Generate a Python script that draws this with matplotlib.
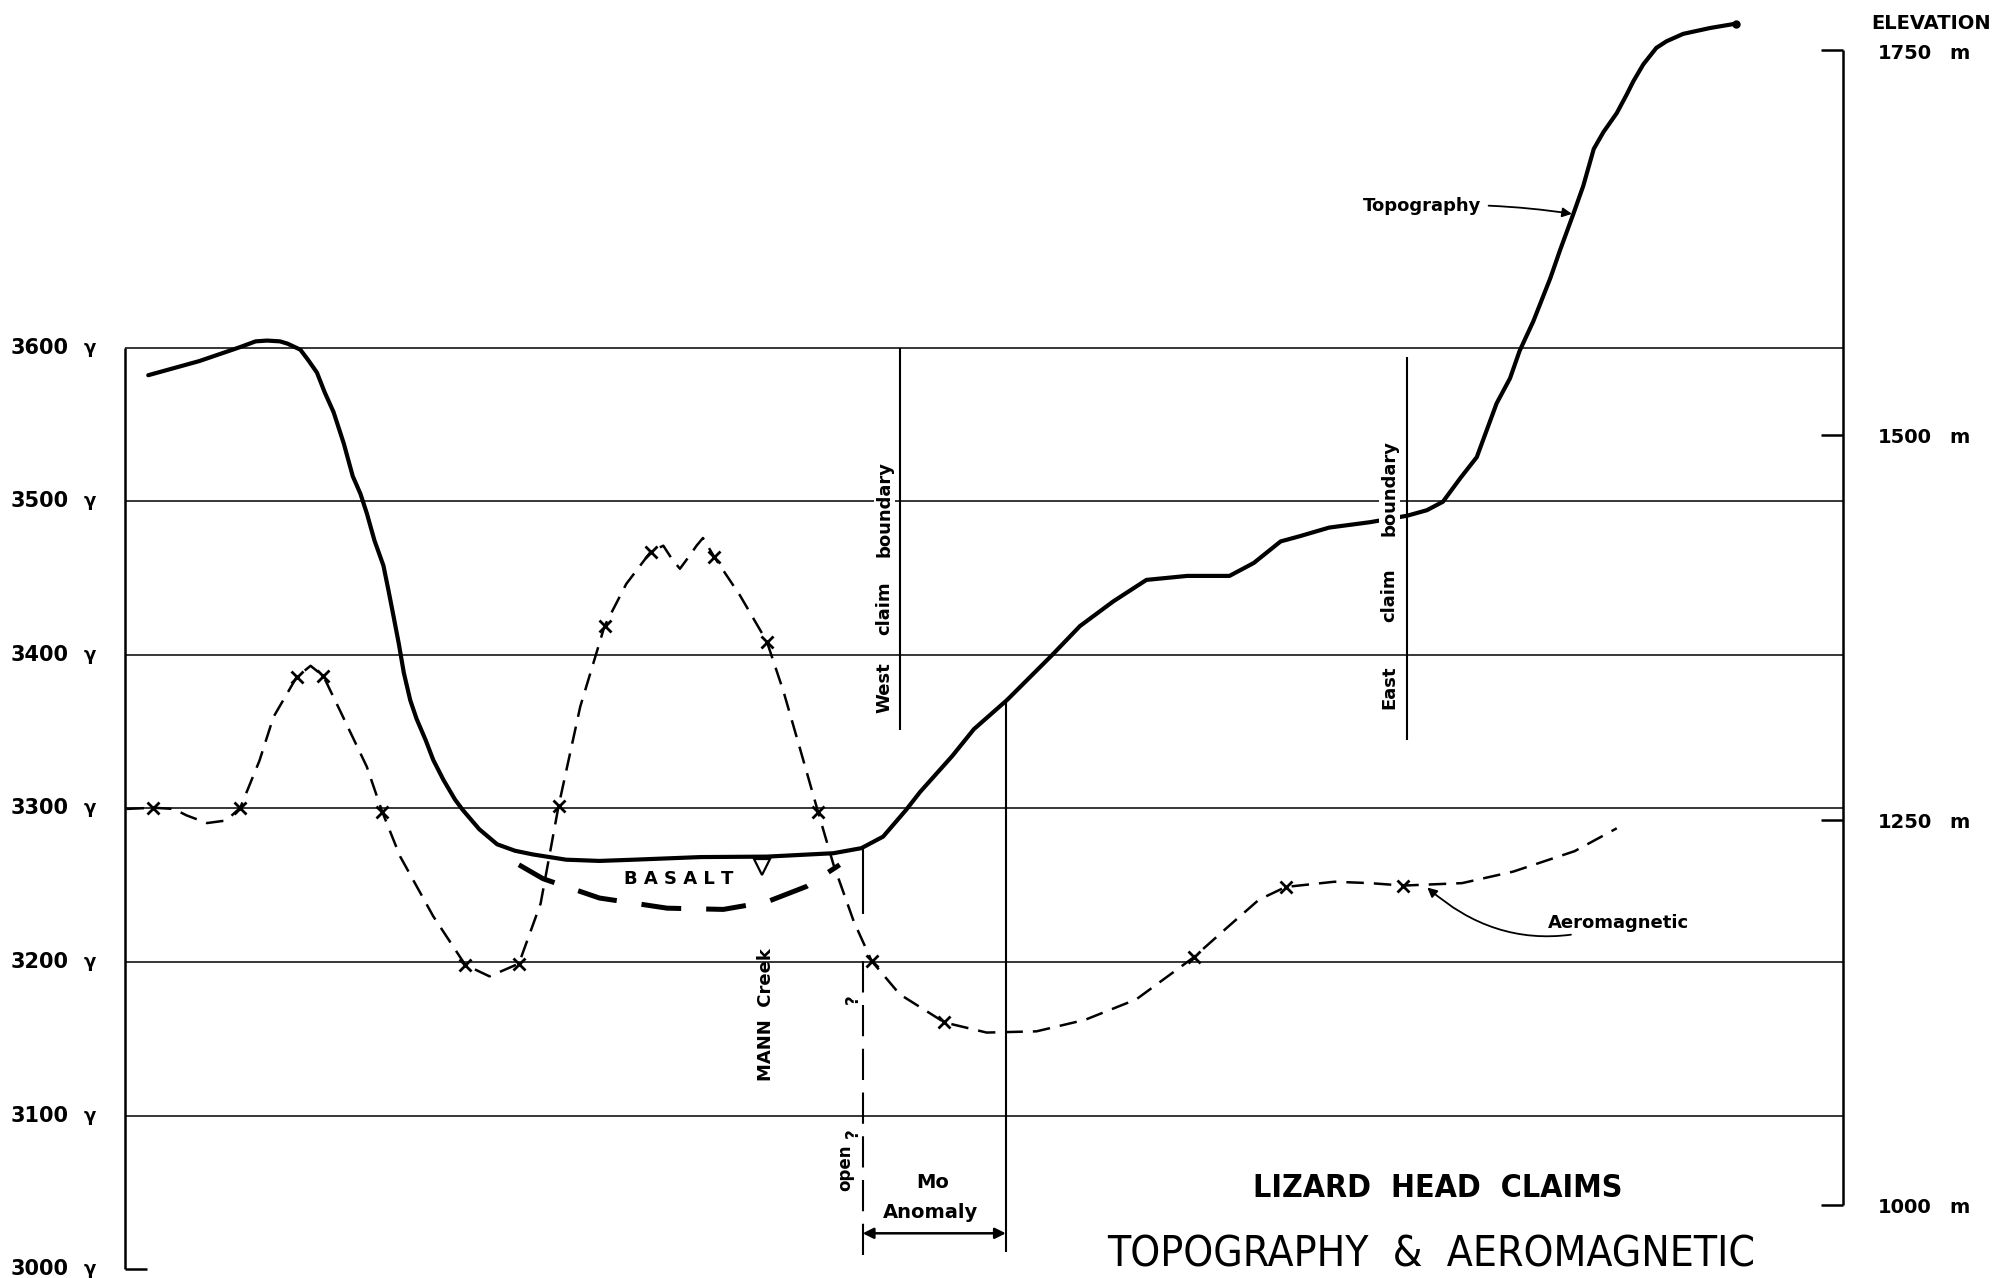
import numpy as np
import matplotlib
matplotlib.use("Agg")
import matplotlib.pyplot as plt

# ---------------- data (distance along profile in arbitrary units) ----------------
topo_dist = [18, 58, 90, 102, 111, 121, 127, 137, 143, 150, 156, 163, 171, 178, 184,
             189, 195, 202, 206, 210, 214, 218, 223, 228, 235, 241, 249, 258, 264, 277,
             291, 305, 319, 345, 371, 398, 450, 502, 554, 576, 593, 611, 622, 647, 664,
             690, 725, 747, 773, 799, 831, 864, 883, 904, 919, 942, 974, 1003, 1018.5,
             1031, 1044.5, 1057.5, 1073, 1083.5, 1091, 1101.7, 1115, 1122.7, 1133,
             1140.8, 1149, 1156.6, 1167, 1174.8, 1180, 1187.8, 1198, 1206, 1219, 1240,
             1260]
topo_elev = [1539, 1548.2, 1557.3, 1561, 1561.5, 1561, 1559.5, 1555.6, 1549, 1540.7,
             1528, 1515, 1494.6, 1473.4, 1462, 1449.3, 1431.6, 1415.3, 1399, 1382,
             1364.7, 1345.5, 1327.8, 1315.6, 1302, 1289, 1276, 1263.3, 1256.6, 1244,
             1234.2, 1230, 1227.6, 1224.2, 1223.4, 1224.2, 1225.9, 1226.2, 1228.4,
             1231.7, 1239.2, 1256.6, 1268.3, 1291.5, 1309, 1328, 1357, 1376, 1392, 1406,
             1408.6, 1408.6, 1417, 1431, 1434.4, 1440, 1443.5, 1447.7, 1451.3, 1456.8,
             1472, 1485.8, 1520.7, 1537, 1554.8, 1574, 1602, 1620.4, 1643.7, 1662, 1686,
             1697, 1709.3, 1721.4, 1730, 1741, 1751.7, 1756, 1760.8, 1764.6, 1767.4]

aero_dist = [1, 22, 38, 48, 64, 79, 90, 105, 116, 134, 145, 155, 168, 189, 201, 215,
             241, 266, 285, 308, 325, 339, 356, 375, 392, 411, 421, 428, 434, 442, 447,
             452, 461, 481, 502, 515, 528, 542, 554, 570, 584, 606, 641, 674, 713, 751,
             791, 836, 863, 887, 908, 946, 974, 1000, 1046, 1086, 1134, 1167]
aero_gamma = [3299.6, 3300.4, 3299.6, 3295.4, 3290.4, 3292.1, 3300.4, 3331, 3359.5,
              3385.3, 3392.8, 3386.1, 3363.7, 3327.1, 3297.9, 3268.8, 3229.7, 3198.1,
              3190.6, 3198.9, 3238, 3301.3, 3366.2, 3418.6, 3446.1, 3466.9, 3471, 3462,
              3456, 3465, 3471, 3476, 3463.5, 3438.6, 3408.6, 3376.2, 3338.7, 3297.9,
              3263.8, 3226.4, 3200.6, 3178.9, 3160.6, 3154, 3154.8, 3162.3, 3175.6,
              3203, 3223, 3240.5, 3248.8, 3252.2, 3251.3, 3249.7, 3251.3, 3258.8,
              3272.1, 3287]

station_dist = [22, 90, 134, 155, 201, 266, 308, 339, 375, 411, 461, 502, 542, 584,
                641, 836, 908, 1000]
station_gamma = [3300.4, 3300.4, 3385.3, 3386.1, 3297.9, 3198.1, 3198.9, 3301.3,
                 3418.6, 3466.9, 3463.5, 3408.6, 3297.9, 3200.6, 3160.6, 3203,
                 3248.8, 3249.7]

basalt_dist = [308, 327, 371, 424, 468, 502, 533, 559]
basalt_elev = [1220.9, 1211.8, 1199.3, 1192.7, 1191.9, 1196.8, 1206.8, 1220.9]

gamma_ticks = [3000, 3100, 3200, 3300, 3400, 3500, 3600]
gamma_labels = ["3000", "3100", "3200", "3300", "3400", "3500", "3600"]
elev_ticks = [1000, 1250, 1500, 1750]
elev_labels = ["1000", "1250", "1500", "1750"]

west_boundary = 606
east_boundary = 1003
mo_west = 577
mo_east = 689
creek_dist = 498
profile_end = 1344

# ---------------- figure ----------------
W, H = 2004, 1278
fig = plt.figure(figsize=(W / 100, H / 100), dpi=100)
fig.patch.set_facecolor("white")
ax = fig.add_axes([0, 0, 1, 1])
ax.set_xlim(-98, 1470)
ax.set_ylim(2994.2, 3826.3)
ax.axis("off")
ax2 = ax.twinx()
ax2.set_ylim(952.4, 1782.8)
ax2.axis("off")

K = "black"
FONT = ["DejaVu Sans"]


def F(px, py):
    return (px / 1568.0, 1 - py / 1000.0)


# grid & axes
ax.hlines(gamma_ticks[1:], 0, profile_end, color=K, lw=1.1, zorder=1)
ax.vlines(0, gamma_ticks[0], gamma_ticks[-1], color=K, lw=1.8, zorder=1)
ax.hlines(gamma_ticks[0], 0, 17, color=K, lw=1.8, zorder=1)
ax2.vlines(profile_end, elev_ticks[0], elev_ticks[-1], color=K, lw=1.8, zorder=1)
ax2.hlines(elev_ticks, profile_end - 17, profile_end, color=K, lw=1.8, zorder=1)

# curves
ax.plot(aero_dist, aero_gamma, color=K, lw=1.8, dashes=[7, 4], zorder=3)
ax.plot(station_dist, station_gamma, "x", color=K, ms=8, mew=2, zorder=4)
ax2.plot(topo_dist, topo_elev, color=K, lw=3.0, solid_capstyle="round",
         solid_joinstyle="round", zorder=3)
ax2.plot(topo_dist[-1], topo_elev[-1], "o", color=K, ms=5, zorder=3)
ax2.plot(basalt_dist, basalt_elev, color=K, lw=3.6, dashes=[8, 5], zorder=3)
ax2.plot(creek_dist, np.interp(creek_dist, topo_dist, topo_elev) - 7, marker="v",
         mfc="white", mec=K, ms=11, mew=1.6, zorder=4)

# claim boundaries
ax.vlines(west_boundary, 3351, 3600, color=K, lw=1.5, zorder=6)
ax.vlines(east_boundary, 3344.5, 3594, color=K, lw=1.5, zorder=6)

# Mo anomaly limits
top_w = np.interp(mo_west, topo_dist, topo_elev)
top_e = np.interp(mo_east, topo_dist, topo_elev)
ax2.vlines(mo_west, 1189, top_w, color=K, lw=1.5, zorder=6)
ax2.vlines(mo_west, 967.4, 1164, color=K, lw=1.5, linestyles=(0, (15, 6)), zorder=6)
ax2.vlines(mo_east, 969, top_e, color=K, lw=1.5, zorder=6)
ax.annotate("", xy=(mo_west, 3023.3), xytext=(mo_east, 3023.3),
            arrowprops=dict(arrowstyle="<|-|>", color=K, lw=1.8, mutation_scale=16,
                            shrinkA=0, shrinkB=0))


def txt(px, py, s, size=13, rot=0, ha="center", va="center", weight="bold",
        box=False, family=None, stretch="normal"):
    kw = {}
    if box:
        kw["bbox"] = dict(facecolor="white", edgecolor="none", pad=1.0)
    x, y = F(px, py)
    ax2.text(x, y, s, transform=fig.transFigure, fontsize=size, rotation=rot,
             ha=ha, va=va, fontweight=weight, family=family or FONT, color=K,
             fontstretch=stretch, zorder=5, **kw)


# left axis labels
for g, lab in zip(gamma_ticks, gamma_labels):
    py = 272 + (3600 - g) * 1.2017
    txt(8, py, lab, size=15, ha="left")
    txt(70, py, "γ", size=13)

# right axis labels
for e, lab in zip(elev_ticks, elev_labels):
    py = 39.5 + (1750 - e) * 1.2043
    txt(1469, py + 2, lab, size=14, ha="left")
    txt(1533, py + 2, "m", size=14)
txt(1511, 18, "ELEVATION", size=14)

# annotations
txt(531, 688, "B A S A L T", size=13)
txt(599, 794, "MANN  Creek", size=13, rot=90)
txt(692, 538, "West", size=13, rot=90)
txt(692, 476, "claim", size=13, rot=90)
txt(692, 398, "boundary", size=13, rot=90, box=True)
txt(1087, 538, "East", size=13, rot=90)
txt(1087, 466, "claim", size=13, rot=90)
txt(1087, 382, "boundary", size=13, rot=90, box=True)
txt(667, 782, "?", size=12, rot=90)
txt(667, 887, "?", size=12, rot=90)
txt(661, 914, "open", size=12, rot=90)
txt(730, 925, "Mo", size=14)
txt(728, 949, "Anomaly", size=14)

ax2.annotate("Topography", xy=(1133, np.interp(1133, topo_dist, topo_elev)),
             xytext=F(1113, 161), textcoords="figure fraction", ha="center",
             va="center", fontsize=13, fontweight="bold", family=FONT,
             arrowprops=dict(arrowstyle="-|>", color=K, lw=1.3, mutation_scale=14,
                             shrinkA=3, shrinkB=1, connectionstyle="arc3,rad=-0.05"))
ax.annotate("Aeromagnetic", xy=(1018, 3249), xytext=F(1266, 722),
            textcoords="figure fraction", ha="center", va="center", fontsize=13,
            fontweight="bold", family=FONT,
            arrowprops=dict(arrowstyle="-|>", color=K, lw=1.3, mutation_scale=14,
                            shrinkA=1, shrinkB=1, connectionstyle="arc3,rad=-0.3"))

# titles
txt(1125, 930, "LIZARD  HEAD  CLAIMS", size=23, weight="bold", stretch="condensed")
txt(1120, 982, "TOPOGRAPHY  &  AEROMAGNETIC", size=30.5, weight="normal",
    stretch="condensed")

fig.savefig("out.png", dpi=100, facecolor="white")
